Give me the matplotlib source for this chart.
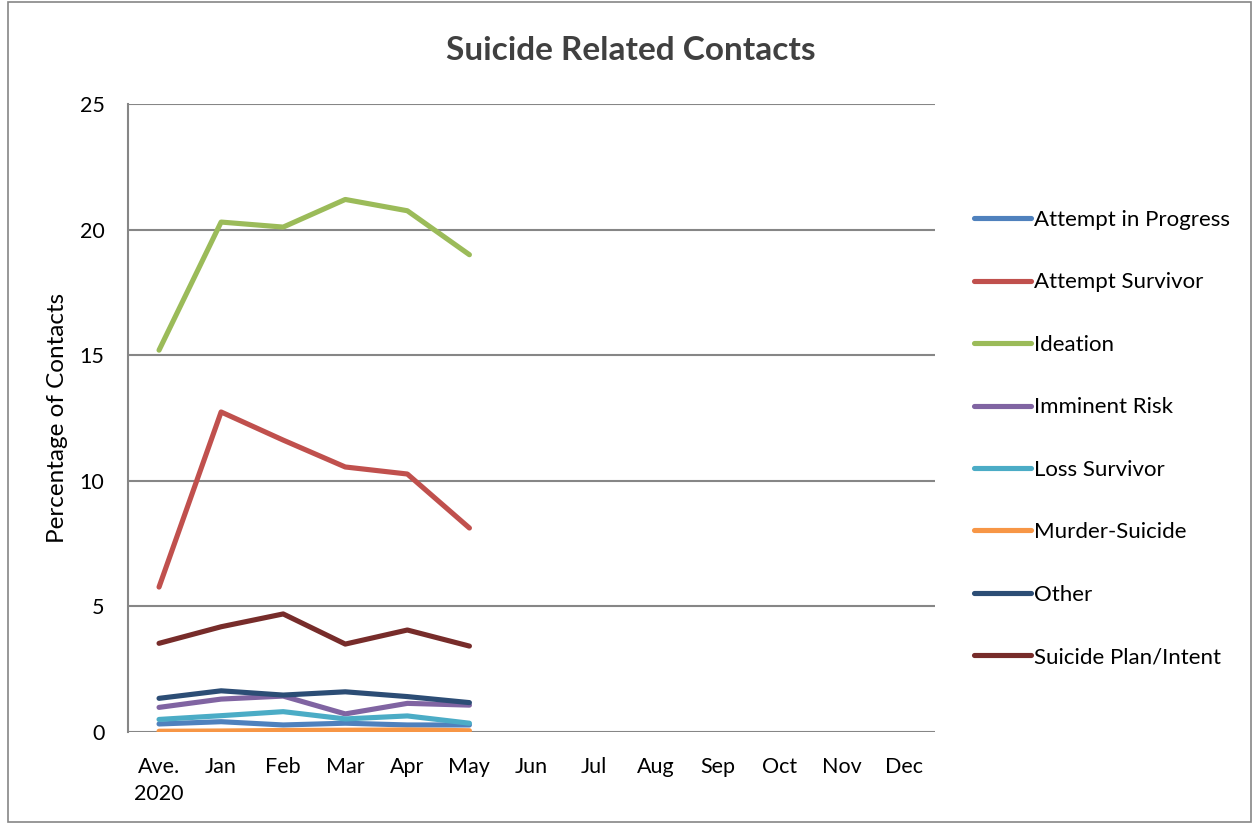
import matplotlib
matplotlib.use("Agg")
import matplotlib.pyplot as plt
from matplotlib.lines import Line2D

categories = ["Ave.\n2020", "Jan", "Feb", "Mar", "Apr", "May", "Jun", "Jul", "Aug", "Sep", "Oct", "Nov", "Dec"]

attempt_in_progress = [0.32, 0.41, 0.28, 0.35, 0.28, 0.28]
attempt_survivor = [5.77, 12.74, 11.62, 10.55, 10.27, 8.12]
ideation = [15.2, 20.3, 20.1, 21.2, 20.75, 19.0]
imminent_risk = [0.98, 1.31, 1.43, 0.72, 1.14, 1.07]
loss_survivor = [0.50, 0.65, 0.81, 0.52, 0.64, 0.35]
murder_suicide = [0.03, 0.04, 0.06, 0.07, 0.08, 0.05]
other = [1.34, 1.64, 1.47, 1.60, 1.41, 1.17]
suicide_plan = [3.53, 4.19, 4.70, 3.50, 4.06, 3.42]

series_names = ["Attempt in Progress", "Attempt Survivor", "Ideation", "Imminent Risk",
                "Loss Survivor", "Murder-Suicide", "Other", "Suicide Plan/Intent"]
series_values = [attempt_in_progress, attempt_survivor, ideation, imminent_risk,
                 loss_survivor, murder_suicide, other, suicide_plan]
colors = ["#4F81BD", "#C0504D", "#9BBB59", "#8064A2", "#4BACC6", "#F79646", "#2C4D75", "#772C2A"]
yticks = [0, 5, 10, 15, 20, 25]

plt.rcParams['font.family'] = ['Lato', 'DejaVu Sans']

fig = plt.figure(figsize=(12.53, 8.24), dpi=100)
ax = fig.add_axes([128/1253, 1 - 732/824, (935-128)/1253, (732-104)/824])

LW = 3.7
x = list(range(len(categories)))
for name, vals, c in zip(series_names, series_values, colors):
    ax.plot(x[:len(vals)], vals, color=c, lw=LW, solid_capstyle='round',
            solid_joinstyle='round', label=name)

ax.set_xlim(-0.5, len(categories) - 0.5)
ax.set_ylim(0, 25)
ax.set_yticks(yticks)
ax.set_xticks(x)
ax.set_xticklabels(categories, fontsize=15.5, linespacing=1.45)
ax.tick_params(axis='both', length=0, labelsize=15.5, colors='black')
ax.tick_params(axis='x', pad=18)
ax.tick_params(axis='y', pad=17)
ax.grid(axis='y', color='#868686', lw=1.5)
ax.set_axisbelow(True)
for s in ['top', 'right', 'bottom']:
    ax.spines[s].set_visible(False)
ax.spines['left'].set_color('#868686')
ax.spines['left'].set_linewidth(1.5)

ax.set_ylabel("Percentage of Contacts", fontsize=17.5)
ax.yaxis.set_label_coords((68 - 128) / (935 - 128), 0.5)

fig.text(631/1253, 1 - 50/824, "Suicide Related Contacts", ha='center', va='center',
         fontsize=24, fontweight='bold', color='#404040')

handles = [Line2D([0], [0], color=c, lw=LW, solid_capstyle='round') for c in colors]
leg = fig.legend(handles, series_names, loc='upper left', bbox_to_anchor=(954/1253, 1 - 190/824),
                 frameon=False, fontsize=16, handlelength=2.55, handletextpad=0.15,
                 labelspacing=1.91)

border = plt.Rectangle((8/1253, 2/824), (1251-8)/1253, (822-2)/824, transform=fig.transFigure,
                       fill=False, edgecolor='#868686', lw=1.2)
fig.patches.append(border)

fig.savefig("out.png", dpi=100)
